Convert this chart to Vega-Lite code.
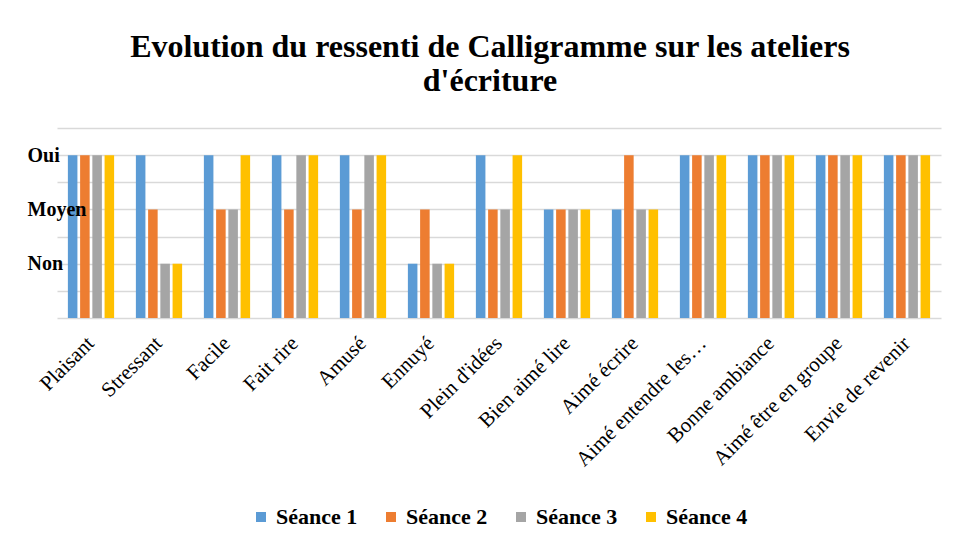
{
  "$schema": "https://vega.github.io/schema/vega-lite/v6.json",
  "width": 884,
  "height": 190,
  "autosize": {"type": "none"},
  "padding": {"left": 57, "top": 128, "right": 15, "bottom": 228},
  "background": "white",
  "title": {
    "text": ["Evolution du ressenti de Calligramme sur les ateliers", "d'écriture"],
    "font": "Liberation Serif",
    "fontSize": 32,
    "fontWeight": "bold",
    "color": "#000000",
    "anchor": "middle",
    "frame": "group",
    "dx": -9,
    "offset": 30,
    "lineHeight": 34
  },
  "data": {
    "values": [
      {"critere": "Plaisant", "seance": "Séance 1", "valeur": 3},
      {"critere": "Plaisant", "seance": "Séance 2", "valeur": 3},
      {"critere": "Plaisant", "seance": "Séance 3", "valeur": 3},
      {"critere": "Plaisant", "seance": "Séance 4", "valeur": 3},
      {"critere": "Stressant", "seance": "Séance 1", "valeur": 3},
      {"critere": "Stressant", "seance": "Séance 2", "valeur": 2},
      {"critere": "Stressant", "seance": "Séance 3", "valeur": 1},
      {"critere": "Stressant", "seance": "Séance 4", "valeur": 1},
      {"critere": "Facile", "seance": "Séance 1", "valeur": 3},
      {"critere": "Facile", "seance": "Séance 2", "valeur": 2},
      {"critere": "Facile", "seance": "Séance 3", "valeur": 2},
      {"critere": "Facile", "seance": "Séance 4", "valeur": 3},
      {"critere": "Fait rire", "seance": "Séance 1", "valeur": 3},
      {"critere": "Fait rire", "seance": "Séance 2", "valeur": 2},
      {"critere": "Fait rire", "seance": "Séance 3", "valeur": 3},
      {"critere": "Fait rire", "seance": "Séance 4", "valeur": 3},
      {"critere": "Amusé", "seance": "Séance 1", "valeur": 3},
      {"critere": "Amusé", "seance": "Séance 2", "valeur": 2},
      {"critere": "Amusé", "seance": "Séance 3", "valeur": 3},
      {"critere": "Amusé", "seance": "Séance 4", "valeur": 3},
      {"critere": "Ennuyé", "seance": "Séance 1", "valeur": 1},
      {"critere": "Ennuyé", "seance": "Séance 2", "valeur": 2},
      {"critere": "Ennuyé", "seance": "Séance 3", "valeur": 1},
      {"critere": "Ennuyé", "seance": "Séance 4", "valeur": 1},
      {"critere": "Plein d'idées", "seance": "Séance 1", "valeur": 3},
      {"critere": "Plein d'idées", "seance": "Séance 2", "valeur": 2},
      {"critere": "Plein d'idées", "seance": "Séance 3", "valeur": 2},
      {"critere": "Plein d'idées", "seance": "Séance 4", "valeur": 3},
      {"critere": "Bien aimé lire", "seance": "Séance 1", "valeur": 2},
      {"critere": "Bien aimé lire", "seance": "Séance 2", "valeur": 2},
      {"critere": "Bien aimé lire", "seance": "Séance 3", "valeur": 2},
      {"critere": "Bien aimé lire", "seance": "Séance 4", "valeur": 2},
      {"critere": "Aimé écrire", "seance": "Séance 1", "valeur": 2},
      {"critere": "Aimé écrire", "seance": "Séance 2", "valeur": 3},
      {"critere": "Aimé écrire", "seance": "Séance 3", "valeur": 2},
      {"critere": "Aimé écrire", "seance": "Séance 4", "valeur": 2},
      {"critere": "Aimé entendre les…", "seance": "Séance 1", "valeur": 3},
      {"critere": "Aimé entendre les…", "seance": "Séance 2", "valeur": 3},
      {"critere": "Aimé entendre les…", "seance": "Séance 3", "valeur": 3},
      {"critere": "Aimé entendre les…", "seance": "Séance 4", "valeur": 3},
      {"critere": "Bonne ambiance", "seance": "Séance 1", "valeur": 3},
      {"critere": "Bonne ambiance", "seance": "Séance 2", "valeur": 3},
      {"critere": "Bonne ambiance", "seance": "Séance 3", "valeur": 3},
      {"critere": "Bonne ambiance", "seance": "Séance 4", "valeur": 3},
      {"critere": "Aimé être en groupe", "seance": "Séance 1", "valeur": 3},
      {"critere": "Aimé être en groupe", "seance": "Séance 2", "valeur": 3},
      {"critere": "Aimé être en groupe", "seance": "Séance 3", "valeur": 3},
      {"critere": "Aimé être en groupe", "seance": "Séance 4", "valeur": 3},
      {"critere": "Envie de revenir", "seance": "Séance 1", "valeur": 3},
      {"critere": "Envie de revenir", "seance": "Séance 2", "valeur": 3},
      {"critere": "Envie de revenir", "seance": "Séance 3", "valeur": 3},
      {"critere": "Envie de revenir", "seance": "Séance 4", "valeur": 3}
    ]
  },
  "encoding": {
    "x": {
      "field": "critere",
      "type": "nominal",
      "sort": null,
      "scale": {"paddingInner": 0.32, "paddingOuter": 0.16},
      "axis": {
        "title": null,
        "labelAngle": -45,
        "labelAlign": "right",
        "labelBaseline": "middle",
        "labelPadding": 22,
        "labelFont": "Liberation Serif",
        "labelFontSize": 21,
        "labelColor": "#000000",
        "labelLimit": 300,
        "labelOverlap": false,
        "domain": false,
        "ticks": false,
        "grid": false
      }
    },
    "xOffset": {
      "field": "seance",
      "type": "nominal",
      "scale": {"paddingInner": 0.22, "paddingOuter": 0}
    },
    "color": {
      "field": "seance",
      "type": "nominal",
      "scale": {
        "domain": ["Séance 1", "Séance 2", "Séance 3", "Séance 4"],
        "range": ["#5B9BD5", "#ED7D31", "#A5A5A5", "#FFC000"]
      },
      "legend": {
        "title": null,
        "orient": "bottom",
        "direction": "horizontal",
        "symbolType": "square",
        "symbolSize": 100,
        "symbolStrokeWidth": 0,
        "labelFont": "Liberation Serif",
        "labelFontSize": 22,
        "labelFontWeight": "bold",
        "labelColor": "#000000",
        "labelOffset": 4,
        "columnPadding": 22,
        "offset": 36
      }
    }
  },
  "layer": [
    {
      "mark": {"type": "bar"},
      "encoding": {
        "y": {
          "field": "valeur",
          "type": "quantitative",
          "scale": {"domain": [0, 3.5], "nice": false},
          "axis": {
            "title": null,
            "orient": "left",
            "values": [0, 0.5, 1, 1.5, 2, 2.5, 3, 3.5],
            "labels": false,
            "domain": false,
            "ticks": false,
            "grid": true,
            "gridColor": "#d9d9d9",
            "gridWidth": 1.5,
            "zindex": 0
          }
        }
      }
    },
    {
      "mark": {"type": "bar", "opacity": 0},
      "encoding": {
        "y": {
          "field": "valeur",
          "type": "quantitative",
          "axis": {
            "title": null,
            "orient": "left",
            "offset": 0,
            "values": [1, 2, 3],
            "labelExpr": "datum.value == 3 ? 'Oui' : datum.value == 2 ? 'Moyen' : datum.value == 1 ? 'Non' : ''",
            "labelAlign": "left",
            "labelBaseline": "middle",
            "labelPadding": 30,
            "labelFont": "Liberation Serif",
            "labelFontSize": 20,
            "labelFontWeight": "bold",
            "labelColor": "#000000",
            "domain": false,
            "ticks": false,
            "grid": false,
            "zindex": 1
          }
        }
      }
    }
  ],
  "resolve": {"axis": {"y": "independent"}},
  "config": {
    "view": {"stroke": null},
    "legend": {"layout": {"bottom": {"anchor": "middle"}}}
  }
}
